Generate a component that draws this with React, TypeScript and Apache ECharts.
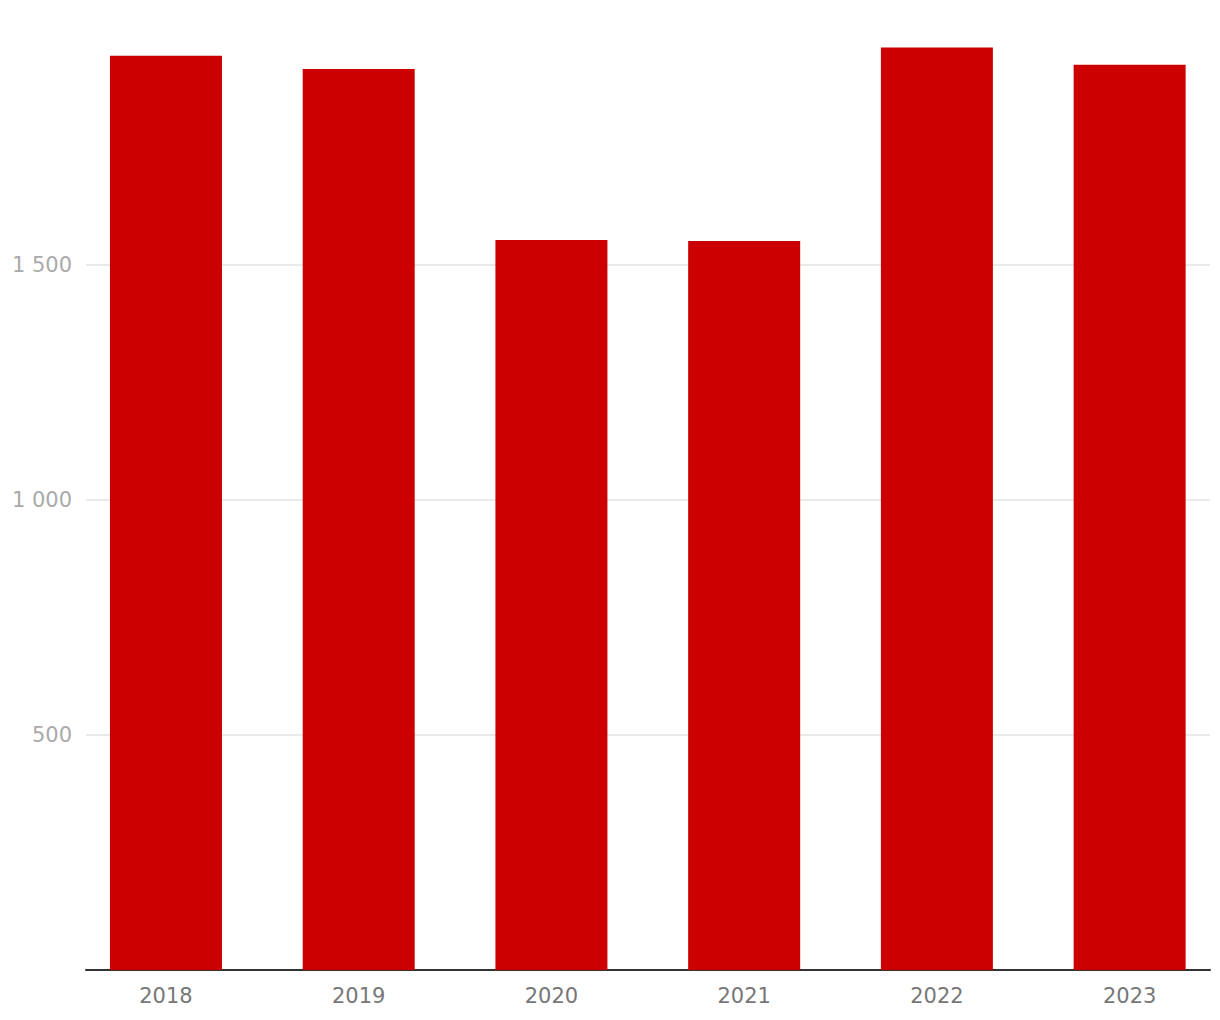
import React, { useEffect, useRef } from "react";
import * as echarts from "echarts";

const categories = ["2018", "2019", "2020", "2021", "2022", "2023"];
const values = [1945, 1917, 1553, 1551, 1963, 1926];
const yMax = 2000;
const yInterval = 500;

const fmt = (v: number) => String(v).replace(/\B(?=(\d{3})+(?!\d))/g, " ");

export default function App() {
  const ref = useRef<HTMLDivElement>(null);
  useEffect(() => {
    document.body.style.margin = "0";
    const chart = echarts.init(ref.current!, null, { renderer: "svg" });
    chart.setOption({
      animation: false,
      grid: [
        { left: 86, right: 30, top: 30, bottom: 50 },
        { left: 69.6, width: 1156.4, top: 30, bottom: 50 },
      ],
      xAxis: [
        {
          gridIndex: 0,
          type: "category",
          data: categories,
          axisTick: { show: false },
          axisLabel: { show: false },
          axisLine: { lineStyle: { color: "#333", width: 2 } },
        },
        {
          gridIndex: 1,
          type: "category",
          data: categories,
          axisTick: { show: false },
          axisLine: { show: false },
          axisLabel: { color: "#777", fontSize: 21, fontFamily: "DejaVu Sans", margin: 15 },
        },
      ],
      yAxis: [
        {
          gridIndex: 0,
          type: "value",
          min: 0,
          max: yMax,
          interval: yInterval,
          axisLine: { show: false },
          axisTick: { show: false },
          splitLine: {
            lineStyle: {
              color: ["transparent", "#e3e3e3", "#e3e3e3", "#e3e3e3", "transparent"],
              width: 1.5,
            },
          },
          axisLabel: {
            color: "#aaaaaa",
            fontSize: 21,
            fontFamily: "DejaVu Sans",
            margin: 14,
            formatter: (v: number) => (v === 0 || v === yMax ? "" : fmt(v)),
          },
        },
        {
          gridIndex: 1,
          type: "value",
          min: 0,
          max: yMax,
          interval: yInterval,
          show: false,
          splitLine: { show: false },
        },
      ],
      series: [
        {
          type: "bar",
          xAxisIndex: 1,
          yAxisIndex: 1,
          data: values,
          barWidth: 112,
          itemStyle: { color: "#cc0000" },
          z: 1,
        },
      ],
    });
    return () => chart.dispose();
  }, []);
  return (
    <div style={{ width: 1220, height: 1020, overflow: "hidden", position: "relative" }}>
      <div ref={ref} style={{ width: 1240, height: 1020 }} />
    </div>
  );
}
